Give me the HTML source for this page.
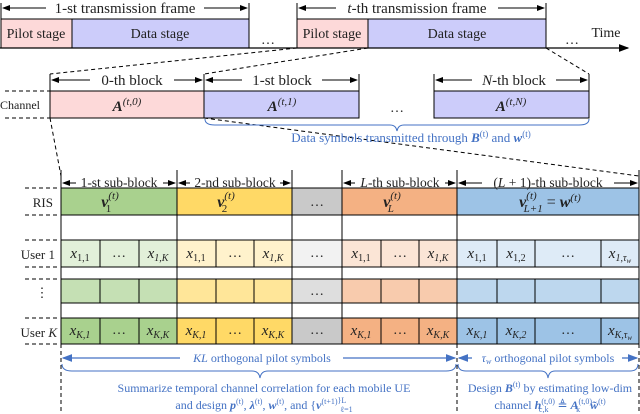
<!DOCTYPE html>
<html><head><meta charset="utf-8"><style>
body{margin:0;background:#fff}
svg{display:block}
text{font-family:"Liberation Serif",serif;fill:#222}
.b{fill:#4472c4}
</style></head><body>
<svg width="640" height="414" viewBox="0 0 640 414" xmlns="http://www.w3.org/2000/svg">
<defs>
<marker id="ah" markerWidth="8" markerHeight="6" refX="7" refY="3" orient="auto-start-reverse"><path d="M0,0L8,3L0,6z" fill="#000"/></marker>
<marker id="bh" markerWidth="8" markerHeight="6" refX="7" refY="3" orient="auto-start-reverse"><path d="M0,0L8,3L0,6z" fill="#4472c4"/></marker>
</defs>
<g stroke="#000" stroke-width="1">
<rect x="1" y="19" width="71" height="29" fill="#fdd9d9"/>
<rect x="72" y="19" width="177" height="29" fill="#ccccfa"/>
<rect x="297" y="19" width="71" height="29" fill="#fdd9d9"/>
<rect x="368" y="19" width="178" height="29" fill="#ccccfa"/>
<line x1="0" y1="48" x2="628" y2="48" stroke-width="1.3" marker-end="url(#ah)"/>
<line x1="1" y1="3" x2="1" y2="19"/><line x1="249" y1="3" x2="249" y2="19"/>
<line x1="297" y1="3" x2="297" y2="19"/><line x1="546" y1="3" x2="546" y2="19"/>
<line x1="3" y1="8" x2="46" y2="8" marker-start="url(#ah)"/><line x1="204" y1="8" x2="247" y2="8" marker-end="url(#ah)"/>
<line x1="299" y1="8" x2="336" y2="8" marker-start="url(#ah)"/><line x1="498" y1="8" x2="544" y2="8" marker-end="url(#ah)"/>
<g stroke-dasharray="4,3">
<line x1="297" y1="48" x2="50" y2="74"/><line x1="368" y1="48" x2="204" y2="74"/><line x1="546" y1="48" x2="589" y2="74"/>
<line x1="5" y1="91" x2="50" y2="91"/><line x1="5" y1="118" x2="50" y2="118"/>
<line x1="50" y1="118" x2="61" y2="176"/><line x1="204" y1="118" x2="639" y2="176"/>
</g>
<rect x="50" y="91" width="154" height="27" fill="#fdd9d9"/>
<rect x="204" y="91" width="155" height="27" fill="#ccccfa"/>
<rect x="434" y="91" width="155" height="27" fill="#ccccfa"/>
<line x1="50" y1="74" x2="50" y2="91"/><line x1="204" y1="74" x2="204" y2="91"/><line x1="359" y1="74" x2="359" y2="91"/>
<line x1="434" y1="74" x2="434" y2="91"/><line x1="589" y1="74" x2="589" y2="91"/>
<line x1="52" y1="80" x2="90" y2="80" marker-start="url(#ah)"/><line x1="174" y1="80" x2="202" y2="80" marker-end="url(#ah)"/>
<line x1="206" y1="80" x2="242" y2="80" marker-start="url(#ah)"/><line x1="322" y1="80" x2="357" y2="80" marker-end="url(#ah)"/>
<line x1="436" y1="80" x2="472" y2="80" marker-start="url(#ah)"/><line x1="556" y1="80" x2="587" y2="80" marker-end="url(#ah)"/>
</g>
<path d="M205,119 Q205,125 215,125 L390,125 Q396,125 397,131 Q398,125 404,125 L579,125 Q589,125 589,119" fill="none" stroke="#4472c4"/>
<g font-size="14">
<text x="125" y="13" text-anchor="middle" font-size="15">1-st transmission frame</text>
<text x="417" y="13" text-anchor="middle" font-size="15"><tspan font-style="italic">t</tspan>-th transmission frame</text>
<text x="36" y="38" text-anchor="middle">Pilot stage</text>
<text x="160" y="38" text-anchor="middle">Data stage</text>
<text x="332" y="38" text-anchor="middle">Pilot stage</text>
<text x="457" y="38" text-anchor="middle">Data stage</text>
<text x="268" y="44" text-anchor="middle">…</text>
<text x="572" y="44" text-anchor="middle">…</text>
<text x="606" y="37" text-anchor="middle">Time</text>
<text x="132" y="85" text-anchor="middle" font-size="15">0-th block</text>
<text x="282" y="85" text-anchor="middle" font-size="15">1-st block</text>
<text x="514" y="85" text-anchor="middle" font-size="15"><tspan font-style="italic">N</tspan>-th block</text>
<text x="397" y="112" text-anchor="middle">…</text>
<text x="0" y="109" font-size="12">Channel</text>
<text x="127" y="111" text-anchor="middle" font-weight="bold" font-style="italic" font-size="15">A<tspan font-size="11" dy="-6" font-weight="normal">(t,0)</tspan></text>
<text x="282" y="111" text-anchor="middle" font-weight="bold" font-style="italic" font-size="15">A<tspan font-size="11" dy="-6" font-weight="normal">(t,1)</tspan></text>
<text x="511" y="111" text-anchor="middle" font-weight="bold" font-style="italic" font-size="15">A<tspan font-size="11" dy="-6" font-weight="normal">(t,N)</tspan></text>
<text x="411" y="142" text-anchor="middle" font-size="13" class="b">Data symbols transmitted through <tspan font-weight="bold" font-style="italic">B</tspan><tspan font-size="9" dy="-5">(t)</tspan><tspan dy="5"> and </tspan><tspan font-weight="bold" font-style="italic">w</tspan><tspan font-size="9" dy="-5">(t)</tspan></text>
</g>
<g stroke="#000" stroke-width="1">
<line x1="61" y1="170" x2="61" y2="188"/><line x1="177" y1="170" x2="177" y2="188"/><line x1="292" y1="170" x2="292" y2="188"/>
<line x1="342" y1="170" x2="342" y2="188"/><line x1="457" y1="170" x2="457" y2="188"/><line x1="639" y1="170" x2="639" y2="188"/>
<g stroke-dasharray="4,3"><line x1="25" y1="188" x2="60" y2="188"/><line x1="25" y1="215" x2="60" y2="215"/><line x1="25" y1="240" x2="60" y2="240"/><line x1="25" y1="267" x2="60" y2="267"/><line x1="25" y1="279" x2="60" y2="279"/><line x1="25" y1="318" x2="60" y2="318"/><line x1="25" y1="344" x2="60" y2="344"/>
<line x1="61" y1="344" x2="61" y2="414"/><line x1="457" y1="344" x2="457" y2="414"/><line x1="639" y1="344" x2="639" y2="414"/></g>
<rect x="61" y="188" width="116" height="27" fill="#a9d18e"/>
<rect x="177" y="188" width="115" height="27" fill="#ffd966"/>
<rect x="292" y="188" width="50" height="27" fill="#c9c9c9"/>
<rect x="342" y="188" width="115" height="27" fill="#f4b183"/>
<rect x="457" y="188" width="182" height="27" fill="#9dc3e6"/>
<rect x="61" y="215" width="578" height="25" fill="#fff"/>
<line x1="177" y1="215" x2="177" y2="240"/><line x1="292" y1="215" x2="292" y2="240"/><line x1="342" y1="215" x2="342" y2="240"/><line x1="457" y1="215" x2="457" y2="240"/>
<rect x="61" y="267" width="578" height="12" fill="#fff"/>
<line x1="177" y1="267" x2="177" y2="279"/><line x1="292" y1="267" x2="292" y2="279"/><line x1="342" y1="267" x2="342" y2="279"/><line x1="457" y1="267" x2="457" y2="279"/>
<rect x="61" y="303" width="578" height="15" fill="#fff"/>
<line x1="177" y1="303" x2="177" y2="318"/><line x1="292" y1="303" x2="292" y2="318"/><line x1="342" y1="303" x2="342" y2="318"/><line x1="457" y1="303" x2="457" y2="318"/>
</g>
<g stroke="#000" stroke-width="1">
<g fill="#e2f0d9"><rect x="61" y="240" width="39" height="27"/><rect x="100" y="240" width="39" height="27"/><rect x="139" y="240" width="38" height="27"/></g>
<g fill="#fff2cc"><rect x="177" y="240" width="39" height="27"/><rect x="216" y="240" width="38" height="27"/><rect x="254" y="240" width="38" height="27"/></g>
<rect x="292" y="240" width="50" height="27" fill="#f2f2f2"/>
<g fill="#fbe5d6"><rect x="342" y="240" width="39" height="27"/><rect x="381" y="240" width="38" height="27"/><rect x="419" y="240" width="38" height="27"/></g>
<g fill="#deebf7"><rect x="457" y="240" width="40" height="27"/><rect x="497" y="240" width="38" height="27"/><rect x="535" y="240" width="66" height="27"/><rect x="601" y="240" width="38" height="27"/></g>
<g fill="#c5e0b4"><rect x="61" y="279" width="39" height="24"/><rect x="100" y="279" width="39" height="24"/><rect x="139" y="279" width="38" height="24"/></g>
<g fill="#ffe699"><rect x="177" y="279" width="39" height="24"/><rect x="216" y="279" width="38" height="24"/><rect x="254" y="279" width="38" height="24"/></g>
<rect x="292" y="279" width="50" height="24" fill="#dedede"/>
<g fill="#f8cbad"><rect x="342" y="279" width="39" height="24"/><rect x="381" y="279" width="38" height="24"/><rect x="419" y="279" width="38" height="24"/></g>
<g fill="#bdd7ee"><rect x="457" y="279" width="40" height="24"/><rect x="497" y="279" width="38" height="24"/><rect x="535" y="279" width="66" height="24"/><rect x="601" y="279" width="38" height="24"/></g>
<g fill="#a9d18e"><rect x="61" y="318" width="39" height="26"/><rect x="100" y="318" width="39" height="26"/><rect x="139" y="318" width="38" height="26"/></g>
<g fill="#ffd966"><rect x="177" y="318" width="39" height="26"/><rect x="216" y="318" width="38" height="26"/><rect x="254" y="318" width="38" height="26"/></g>
<rect x="292" y="318" width="50" height="26" fill="#c9c9c9"/>
<g fill="#f4b183"><rect x="342" y="318" width="39" height="26"/><rect x="381" y="318" width="38" height="26"/><rect x="419" y="318" width="38" height="26"/></g>
<g fill="#9dc3e6"><rect x="457" y="318" width="40" height="26"/><rect x="497" y="318" width="38" height="26"/><rect x="535" y="318" width="66" height="26"/><rect x="601" y="318" width="38" height="26"/></g>
</g>
<g stroke="#000">
<line x1="63" y1="183" x2="76" y2="183" marker-start="url(#ah)"/><line x1="163" y1="183" x2="175" y2="183" marker-end="url(#ah)"/>
<line x1="179" y1="183" x2="190" y2="183" marker-start="url(#ah)"/><line x1="280" y1="183" x2="290" y2="183" marker-end="url(#ah)"/>
<line x1="344" y1="183" x2="355" y2="183" marker-start="url(#ah)"/><line x1="445" y1="183" x2="455" y2="183" marker-end="url(#ah)"/>
<line x1="459" y1="183" x2="482" y2="183" marker-start="url(#ah)"/><line x1="614" y1="183" x2="637" y2="183" marker-end="url(#ah)"/>
</g>
<g stroke="#4472c4" stroke-width="1.3">
<line x1="63" y1="358" x2="180" y2="358" marker-start="url(#bh)"/><line x1="343" y1="358" x2="455" y2="358" marker-end="url(#bh)"/>
<line x1="459" y1="358" x2="472" y2="358" marker-start="url(#bh)"/><line x1="622" y1="358" x2="637" y2="358" marker-end="url(#bh)"/>
</g>
<g fill="none" stroke="#4472c4">
<path d="M62,364 Q62,371 72,371 L252,371 Q259,371 260,378 Q261,371 268,371 L446,371 Q456,371 456,364"/>
<path d="M458,364 Q458,371 466,371 L541,371 Q547,371 548,378 Q549,371 555,371 L630,371 Q638,371 638,364"/>
</g>
<g font-size="14">
<text x="119" y="187" text-anchor="middle" font-size="13.5">1-st sub-block</text>
<text x="235" y="187" text-anchor="middle" font-size="13.5">2-nd sub-block</text>
<text x="400" y="187" text-anchor="middle" font-size="13.5"><tspan font-style="italic">L</tspan>-th sub-block</text>
<text x="548" y="187" text-anchor="middle" font-size="13.5">(<tspan font-style="italic">L</tspan> + 1)-th sub-block</text>
<text x="53" y="207" text-anchor="end" font-size="13">RIS</text>
<text x="55" y="259" text-anchor="end" font-size="13">User 1</text>
<text x="42" y="297" text-anchor="middle" font-size="13">⋮</text>
<text x="57" y="337" text-anchor="end" font-size="13">User <tspan font-style="italic">K</tspan></text>
<g font-weight="bold" font-style="italic" font-size="16">
<text x="110" y="207" text-anchor="middle">v<tspan font-size="11" dy="-8" font-weight="normal">(t)</tspan><tspan font-size="11" dx="-13" dy="13" font-weight="normal" font-style="normal">1</tspan></text>
<text x="226" y="207" text-anchor="middle">v<tspan font-size="11" dy="-8" font-weight="normal">(t)</tspan><tspan font-size="11" dx="-13" dy="13" font-weight="normal" font-style="normal">2</tspan></text>
<text x="392" y="207" text-anchor="middle">v<tspan font-size="11" dy="-8" font-weight="normal">(t)</tspan><tspan font-size="11" dx="-13" dy="13" font-weight="normal">L</tspan></text>
<text x="550" y="207" text-anchor="middle">v<tspan font-size="11" dy="-8" font-weight="normal">(t)</tspan><tspan font-size="11" dx="-13" dy="13" font-weight="normal">L+1</tspan><tspan dy="-5" font-style="normal" font-weight="normal"> = </tspan>w<tspan font-size="11" dy="-6" font-weight="normal">(t)</tspan></text>
</g>
<text x="317" y="206" text-anchor="middle">…</text>
<g font-style="italic" font-size="15">
<text x="80" y="258" text-anchor="middle">x<tspan font-size="10" dy="3" font-style="normal">1,1</tspan></text>
<text x="158" y="258" text-anchor="middle">x<tspan font-size="10" dy="3">1,K</tspan></text>
<text x="196" y="258" text-anchor="middle">x<tspan font-size="10" dy="3" font-style="normal">1,1</tspan></text>
<text x="273" y="258" text-anchor="middle">x<tspan font-size="10" dy="3">1,K</tspan></text>
<text x="361" y="258" text-anchor="middle">x<tspan font-size="10" dy="3" font-style="normal">1,1</tspan></text>
<text x="438" y="258" text-anchor="middle">x<tspan font-size="10" dy="3">1,K</tspan></text>
<text x="477" y="258" text-anchor="middle">x<tspan font-size="10" dy="3" font-style="normal">1,1</tspan></text>
<text x="516" y="258" text-anchor="middle">x<tspan font-size="10" dy="3" font-style="normal">1,2</tspan></text>
<text x="620" y="258" text-anchor="middle">x<tspan font-size="10" dy="3">1,τ<tspan font-size="7" dy="2">w</tspan></tspan></text>
<text x="80" y="335" text-anchor="middle">x<tspan font-size="10" dy="3">K,1</tspan></text>
<text x="158" y="335" text-anchor="middle">x<tspan font-size="10" dy="3">K,K</tspan></text>
<text x="196" y="335" text-anchor="middle">x<tspan font-size="10" dy="3">K,1</tspan></text>
<text x="273" y="335" text-anchor="middle">x<tspan font-size="10" dy="3">K,K</tspan></text>
<text x="361" y="335" text-anchor="middle">x<tspan font-size="10" dy="3">K,1</tspan></text>
<text x="438" y="335" text-anchor="middle">x<tspan font-size="10" dy="3">K,K</tspan></text>
<text x="477" y="335" text-anchor="middle">x<tspan font-size="10" dy="3">K,1</tspan></text>
<text x="516" y="335" text-anchor="middle">x<tspan font-size="10" dy="3">K,2</tspan></text>
<text x="620" y="335" text-anchor="middle">x<tspan font-size="10" dy="3">K,τ<tspan font-size="7" dy="2">w</tspan></tspan></text>
</g>
<g text-anchor="middle">
<text x="119" y="257">…</text><text x="235" y="257">…</text><text x="317" y="257">…</text><text x="400" y="257">…</text><text x="568" y="257">…</text>
<text x="317" y="295">…</text>
<text x="119" y="334">…</text><text x="235" y="334">…</text><text x="317" y="334">…</text><text x="400" y="334">…</text><text x="568" y="334">…</text>
</g>
<g font-size="12" text-anchor="middle">
<text x="262" y="362" class="b"><tspan font-style="italic">KL</tspan> orthogonal pilot symbols</text>
<text x="548" y="362" class="b"><tspan font-style="italic">τ<tspan font-size="8" dy="2">w</tspan></tspan><tspan dy="-2"> orthogonal pilot symbols</tspan></text>
<text x="264" y="392" class="b">Summarize temporal channel correlation for each mobile UE</text>
<text x="264" y="409" class="b">and design <tspan font-weight="bold" font-style="italic">p</tspan><tspan font-size="8" dy="-5">(t)</tspan><tspan dy="5">, </tspan><tspan font-weight="bold" font-style="italic">λ</tspan><tspan font-size="8" dy="-5">(t)</tspan><tspan dy="5">, </tspan><tspan font-weight="bold" font-style="italic">w</tspan><tspan font-size="8" dy="-5">(t)</tspan><tspan dy="5">, and {</tspan><tspan font-weight="bold" font-style="italic">v</tspan><tspan font-size="8" dy="-5">(t+1)</tspan><tspan font-size="8" dy="-1">}</tspan><tspan font-size="8" dy="0">L</tspan><tspan font-size="8" dx="-6" dy="9">ℓ=1</tspan></text>
<text x="550" y="392" class="b">Design <tspan font-weight="bold" font-style="italic">B</tspan><tspan font-size="8" dy="-5">(t)</tspan><tspan dy="5"> by estimating low-dim</tspan></text>
<text x="550" y="409" class="b">channel <tspan font-weight="bold" font-style="italic">h</tspan><tspan font-size="8" dy="-5">(t,0)</tspan><tspan font-size="8" dx="-16" dy="8">c,k</tspan><tspan dx="6" dy="-3"> ≜ </tspan><tspan font-weight="bold" font-style="italic">A</tspan><tspan font-size="8" dy="-5">(t,0)</tspan><tspan font-size="8" dx="-16" dy="8">k</tspan><tspan dx="10" dy="-3" font-weight="bold" font-style="italic">w̃</tspan><tspan font-size="8" dy="-5">(t)</tspan></text>
</g>
</g>
</svg>
</body></html>
